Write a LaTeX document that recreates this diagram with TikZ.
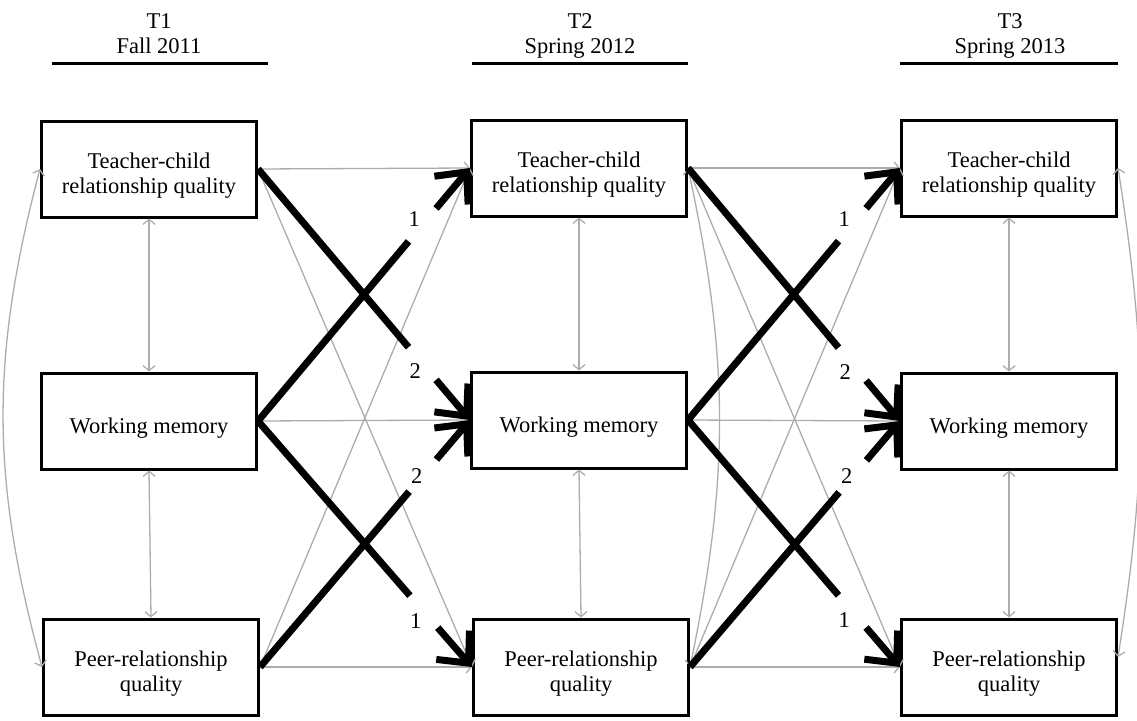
\documentclass[tikz,border=0pt]{standalone}
\usepackage{fontspec}
\setmainfont{Liberation Serif}
\usetikzlibrary{arrows.meta,calc}
\definecolor{lg}{RGB}{172,172,172}
\newcommand\boxstrut{\rule{0pt}{29pt}}
\begin{document}
\begin{tikzpicture}[x=1pt,y=-1pt,
  box/.style={draw, line width=3pt, minimum width=215pt, minimum height=96pt,
    align=center, inner sep=0pt, font=\fontsize{22.5}{25.5}\selectfont},
  head/.style={align=center, anchor=north, inner sep=0pt, font=\fontsize{22.5}{25.5}\selectfont},
  lbl/.style={font=\fontsize{22.5}{25}\selectfont, inner sep=0pt},
  rule/.style={line width=3pt},
  grayarr/.style={draw=lg, line width=1.3pt, -{Straight Barb[length=5pt,width=12pt]}},
  grayboth/.style={draw=lg, line width=1.3pt, {Straight Barb[length=5pt,width=12pt]}-{Straight Barb[length=5pt,width=12pt]}},
  boldline/.style={line width=7pt},
  boldarr/.style={line width=7pt, -{Straight Barb[length=24pt,width=44pt]}}]
\useasboundingbox (0,0) rectangle (1137,720);

% headers
\node[head] (h1) at (159,13) {T1\\Fall 2011};
\node[head] (h2) at (580,13) {T2\\Spring 2012};
\node[head] (h3) at (1010,13) {T3\\Spring 2013};
\coordinate (u1a) at (52,63);  \coordinate (u1b) at (268,63);
\coordinate (u2a) at (472,63); \coordinate (u2b) at (688,63);
\coordinate (u3a) at (900,63); \coordinate (u3b) at (1118,63);
\draw[rule] (u1a) -- (u1b);
\draw[rule] (u2a) -- (u2b);
\draw[rule] (u3a) -- (u3b);

% boxes
\node[box] (t1t) at (149,169) {\boxstrut Teacher-child\\relationship quality};
\node[box] (t1w) at (149,421) {\boxstrut Working memory};
\node[box] (t1p) at (151,667) {\boxstrut Peer-relationship\\quality};
\node[box] (t2t) at (579,168) {\boxstrut Teacher-child\\relationship quality};
\node[box] (t2w) at (579,420) {\boxstrut Working memory};
\node[box] (t2p) at (581,667) {\boxstrut Peer-relationship\\quality};
\node[box] (t3t) at (1009,168) {\boxstrut Teacher-child\\relationship quality};
\node[box] (t3w) at (1009,421) {\boxstrut Working memory};
\node[box] (t3p) at (1009,667) {\boxstrut Peer-relationship\\quality};

% within-time associations
\foreach \c in {1,2,3}{
  \draw[grayboth] (t\c t.south) -- (t\c w.north);
  \draw[grayboth] (t\c w.south) -- (t\c p.north);
}
\draw[grayboth] (t1t.west) to[bend right=15] (t1p.west);
\draw[grayboth] (t2t.east) to[bend left=12] (t2p.east);
\draw[grayboth] (t3t.east) to[bend left=9] ($(t3p.east)+(0,-10)$);

% gray cross-lagged paths
\foreach \a/\b in {1/2,2/3}{
  \draw[grayarr] (t\a t.east) -- (t\b t.west);
  \draw[grayarr] (t\a w.east) -- (t\b w.west);
  \draw[grayarr] (t\a p.east) -- (t\b p.west);
  \draw[grayarr] (t\a t.east) -- (t\b p.west);
  \draw[grayarr] (t\a p.east) -- (t\b t.west);
}

% significant paths
\foreach \a/\b in {1/2,2/3}{
  \foreach \s/\t/\l/\dx/\dy in {t/w/2/-7/8, w/t/1/-8/-6, w/p/1/-8/9, p/w/2/-6/0}{
    \draw[boldline] (t\a\s.east) -- ($(t\a\s.east)!0.71!(t\b\t.west)$);
    \draw[boldarr] ($(t\a\s.east)!0.84!(t\b\t.west)$) -- (t\b\t.west);
    \node[lbl] at ($(t\a\s.east)!0.775!(t\b\t.west)+(\dx,\dy)$) {\l};
  }
}
\end{tikzpicture}
\end{document}
